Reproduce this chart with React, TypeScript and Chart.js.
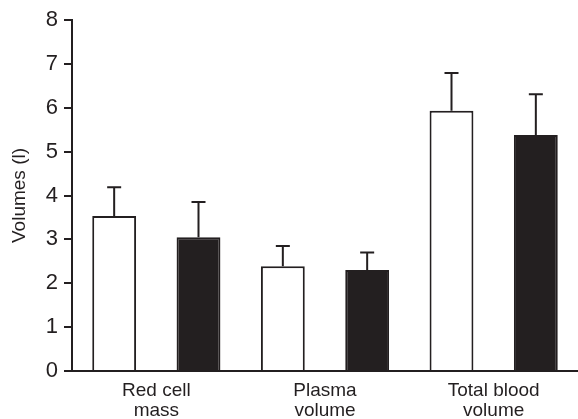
import React, { useEffect, useRef } from "react";
import { Chart, registerables } from "chart.js";

Chart.register(...registerables);

const categories: string[][] = [["Red cell", "mass"], ["Plasma", "volume"], ["Total blood", "volume"]];
const openValues = [3.53, 2.39, 5.93];
const openErrors = [0.66, 0.46, 0.86];
const filledValues = [3.05, 2.3, 5.38];
const filledErrors = [0.8, 0.4, 0.93];
const yTicks = [0, 1, 2, 3, 4, 5, 6, 7, 8];

const ink = "#231f20";
const fontFamily = "'Liberation Sans', Arial, Helvetica, sans-serif";

const errorBarPlugin = {
  id: "errorBars",
  afterDatasetsDraw(chart: any) {
    const ctx = chart.ctx;
    const yScale = chart.scales.y;
    chart.data.datasets.forEach((ds: any, di: number) => {
      const meta = chart.getDatasetMeta(di);
      const errs: number[] = ds.errors || [];
      meta.data.forEach((bar: any, i: number) => {
        const v = ds.data[i];
        const e = errs[i];
        if (e == null) return;
        const x = bar.x;
        const y0 = yScale.getPixelForValue(v);
        const y1 = yScale.getPixelForValue(v + e);
        ctx.save();
        ctx.strokeStyle = ink;
        ctx.lineWidth = 2;
        ctx.beginPath();
        ctx.moveTo(x, y0);
        ctx.lineTo(x, y1);
        ctx.moveTo(x - 7, y1);
        ctx.lineTo(x + 7, y1);
        ctx.stroke();
        ctx.restore();
      });
    });
  },
};

export default function App() {
  const ref = useRef<HTMLCanvasElement>(null);
  useEffect(() => {
    if (!ref.current) return;
    const chart = new Chart(ref.current, {
      type: "bar",
      data: {
        labels: categories,
        datasets: [
          {
            label: "Open",
            data: openValues,
            errors: openErrors,
            backgroundColor: "#ffffff",
            borderColor: ink,
            borderWidth: 2,
            borderSkipped: "bottom",
            barPercentage: 0.52,
            categoryPercentage: 1.0,
          } as any,
          {
            label: "Filled",
            data: filledValues,
            errors: filledErrors,
            backgroundColor: ink,
            borderColor: ink,
            borderWidth: 2,
            borderSkipped: "bottom",
            barPercentage: 0.52,
            categoryPercentage: 1.0,
          } as any,
        ],
      },
      options: {
        animation: false,
        responsive: false,
        maintainAspectRatio: false,
        layout: { padding: { top: 20, right: 0, left: 0, bottom: 0 } },
        plugins: {
          legend: { display: false },
          tooltip: { enabled: false },
        },
        scales: {
          x: {
            grid: { display: false, drawTicks: false },
            border: { display: true, color: ink, width: 2 },
            ticks: {
              color: ink,
              font: { family: fontFamily, size: 19, lineHeight: 1.05 },
              padding: 10,
              maxRotation: 0,
              autoSkip: false,
            },
            afterFit(scale: any) {
              scale.height = 48;
            },
          },
          y: {
            min: 0,
            max: 8,
            afterBuildTicks(scale: any) {
              scale.ticks = yTicks.map((v) => ({ value: v }));
            },
            grid: {
              drawOnChartArea: false,
              drawTicks: true,
              tickLength: 8,
              tickColor: ink,
              lineWidth: 2,
            },
            border: { display: true, color: ink, width: 2 },
            ticks: {
              color: ink,
              font: { family: fontFamily, size: 22 },
              padding: 6,
            },
            title: {
              display: true,
              text: "Volumes (l)",
              color: ink,
              font: { family: fontFamily, size: 19 },
              padding: { top: 8, bottom: 4 },
            },
            afterFit(scale: any) {
              scale.width = 72;
            },
          },
        },
      },
      plugins: [errorBarPlugin],
    });
    return () => chart.destroy();
  }, []);
  return (
    <div style={{ position: "fixed", left: 0, top: 0, width: 578, height: 419, background: "#fff" }}>
      <canvas ref={ref} width={578} height={419} style={{ width: 578, height: 419 }} />
    </div>
  );
}
